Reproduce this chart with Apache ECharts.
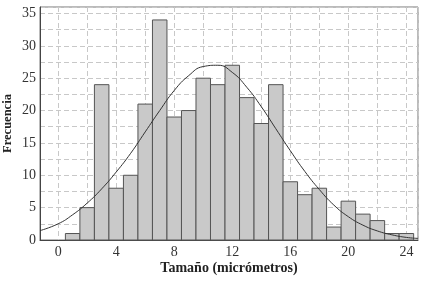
<!DOCTYPE html>
<html>
<head>
<meta charset="utf-8">
<script src="https://cdn.jsdelivr.net/npm/echarts@6/dist/echarts.min.js"></script>
<style>
  html, body { margin: 0; padding: 0; background: #fff; }
  #chart { width: 424px; height: 283px; }
</style>
</head>
<body>
<div id="chart"></div>
<script>
// histogram bins (centre of each 1-unit bin) and counts
const binCenters = [1, 2, 3, 4, 5, 6, 7, 8, 9, 10, 11, 12, 13, 14, 15, 16, 17, 18, 19, 20, 21, 22, 23, 24];
const counts = [1, 5, 24, 8, 10, 21, 34, 19, 20, 25, 24, 27, 22, 18, 24, 9, 7, 8, 2, 6, 4, 3, 1, 1];

// fitted curve
const curveX = [-1.25, 0, 1, 2, 3, 4, 5, 6, 7, 8, 9, 10, 11, 12, 13, 14, 15, 16, 17, 18, 19, 20, 21, 22, 23, 24, 24.8];
const curveY = [1.45, 2.5, 3.9, 5.7, 7.9, 10.5, 13.4, 16.7, 20.0, 23.1, 25.4, 26.8, 27.0, 25.9, 23.6, 20.6, 17.2, 13.8, 10.6, 7.8, 5.4, 3.6, 2.3, 1.4, 0.8, 0.4, 0.25];

const xLabels = [0, 4, 8, 12, 16, 20, 24];
const yLabels = [0, 5, 10, 15, 20, 25, 30, 35];

const chart = echarts.init(document.getElementById('chart'));

const font = 'Liberation Serif';

chart.setOption({
  animation: false,
  grid: {
    left: 40, right: 6, top: 7, bottom: 43,
    containLabel: false,
    outerBoundsMode: 'none',
    show: true, borderColor: '#777', borderWidth: 1
  },
  xAxis: {
    type: 'value',
    min: -1.25,
    max: 24.8,
    splitNumber: 13,
    name: 'Tamaño (micrómetros)',
    nameLocation: 'middle',
    nameGap: 21,
    nameMoveOverlap: false,
    nameTextStyle: { fontFamily: font, fontWeight: 'bold', fontSize: 14, color: '#222' },
    axisLine: { onZero: false, lineStyle: { color: '#444' } },
    axisTick: { show: false },
    axisLabel: {
      fontFamily: font, fontSize: 14, color: '#333', margin: 5,
      showMinLabel: false, showMaxLabel: false,
      formatter: v => xLabels.includes(v) ? String(v) : ''
    },
    splitLine: { show: true, lineStyle: { color: '#c8c8c8', type: [5, 3] } }
  },
  yAxis: {
    type: 'value',
    min: 0,
    max: 36,
    interval: 2.5,
    name: 'Frecuencia',
    nameLocation: 'middle',
    nameGap: 26,
    nameMoveOverlap: false,
    nameTextStyle: { fontFamily: font, fontWeight: 'bold', fontSize: 12.5, color: '#222' },
    axisLine: { show: true, onZero: false, lineStyle: { color: '#444' } },
    axisTick: { show: false },
    axisLabel: {
      fontFamily: font, fontSize: 14, color: '#333', margin: 4,
      formatter: v => yLabels.includes(v) ? String(v) : ''
    },
    splitLine: { show: true, lineStyle: { color: '#c8c8c8', type: [5, 3] } }
  },
  series: [
    {
      type: 'custom',
      data: binCenters.map((c, i) => [c, counts[i]]),
      renderItem: (params, api) => {
        const x = api.value(0);
        const y = api.value(1);
        const p0 = api.coord([x - 0.5, 0]);
        const p1 = api.coord([x + 0.5, y]);
        return {
          type: 'rect',
          shape: { x: p0[0], y: p1[1], width: p1[0] - p0[0], height: p0[1] - p1[1] },
          style: { fill: '#c9c9c9', stroke: '#555', lineWidth: 1 }
        };
      },
      z: 2
    },
    {
      type: 'line',
      data: curveX.map((x, i) => [x, curveY[i]]),
      smooth: true,
      showSymbol: false,
      lineStyle: { color: '#333', width: 1 },
      z: 3
    }
  ]
});
</script>
</body>
</html>
